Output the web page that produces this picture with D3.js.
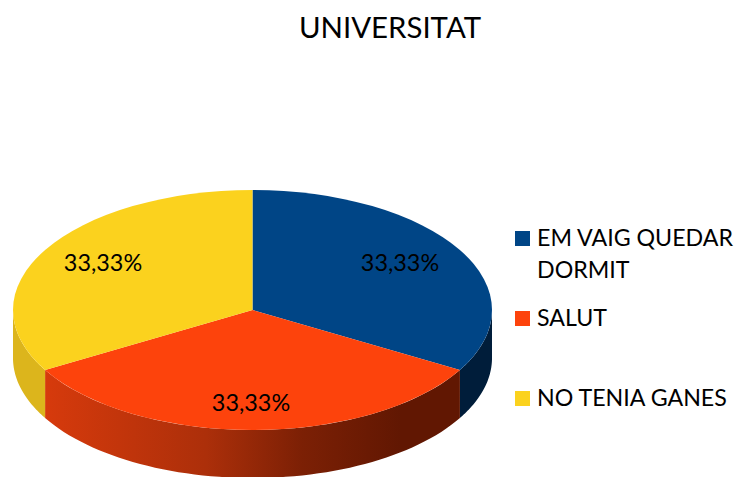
<!DOCTYPE html>
<html><head><meta charset="utf-8">
<script src="https://cdn.jsdelivr.net/npm/d3@7"></script>
<style>html,body{margin:0;padding:0;background:#fff}svg{display:block}text{font-family:Lato,"Open Sans",sans-serif;fill:#000}</style>
</head><body><svg id="c" width="753" height="477"></svg>
<script>
const title = "UNIVERSITAT";
const categories = ["EM VAIG QUEDAR DORMIT", "SALUT", "NO TENIA GANES"];
const legendLines = [["EM VAIG QUEDAR", "DORMIT"], ["SALUT"], ["NO TENIA GANES"]];
const values = [33.33, 33.33, 33.33];
const labels = ["33,33%", "33,33%", "33,33%"];
const colors = ["#004586", "#fd430c", "#fbd21e"];
const sideColors = ["#001d3a", "url(#redSide)", "#dcb51c"];

const cx = 252.5, cy = 310, rx = 239.5, ry = 120, depth = 48;
const svg = d3.select("#c");
const x = d3.scaleLinear().domain([-1, 1]).range([cx - rx, cx + rx]);
const y = d3.scaleLinear().domain([-1, 1]).range([cy - ry, cy + ry]);

const grad = svg.append("defs").append("linearGradient").attr("id", "redSide")
  .attr("gradientUnits", "userSpaceOnUse")
  .attr("x1", x(-0.86)).attr("x2", x(0.62)).attr("y1", 0).attr("y2", 0);
[[0, "#d63a0c"], [0.45, "#ac2f0a"], [0.72, "#7c2005"], [1, "#611702"]]
  .forEach(([o, c]) => grad.append("stop").attr("offset", o).attr("stop-color", c));

const pie = d3.pie().sort(null).startAngle(0).endAngle(2 * Math.PI);
const arcs = pie(values);

// extruded wall: only the part of each slice facing the viewer
const wall = a => {
  const s = Math.max(a.startAngle, Math.PI / 2), e = Math.min(a.endAngle, 3 * Math.PI / 2);
  if (e <= s) return null;
  const t = d3.range(0, 61).map(i => s + (e - s) * i / 60);
  const top = t.map(o => [x(Math.sin(o)), y(-Math.cos(o))]);
  const bot = t.slice().reverse().map(o => [x(Math.sin(o)), y(-Math.cos(o)) + depth]);
  return d3.line()(top.concat(bot)) + "Z";
};
svg.append("g").selectAll("path").data(arcs).join("path")
  .attr("d", wall).attr("fill", (d, i) => sideColors[i]);

const arc = d3.arc().innerRadius(0).outerRadius(1);
svg.append("g").attr("transform", `translate(${cx},${cy}) scale(${rx},${ry})`)
  .selectAll("path").data(arcs).join("path")
  .attr("d", arc).attr("fill", (d, i) => colors[i]);

const labelPos = [[400, 271], [251, 411], [103, 271]];
svg.append("g").selectAll("text").data(labels).join("text")
  .attr("x", (d, i) => labelPos[i][0]).attr("y", (d, i) => labelPos[i][1])
  .attr("text-anchor", "middle").attr("font-size", 23.4).text(d => d);

svg.append("text").attr("x", 390).attr("y", 38).attr("text-anchor", "middle")
  .attr("font-size", 29.4).text(title);

const legY = [231, 311, 391];
const lg = svg.append("g").selectAll("g").data(categories).join("g");
lg.append("rect").attr("x", 515).attr("y", (d, i) => legY[i]).attr("width", 15).attr("height", 15)
  .attr("fill", (d, i) => colors[i]);
lg.each(function (d, i) {
  d3.select(this).selectAll("text").data(legendLines[i]).join("text")
    .attr("x", 537).attr("y", (t, j) => legY[i] + 15 + j * 32)
    .attr("font-size", 23.2).text(t => t);
});
</script></body></html>
